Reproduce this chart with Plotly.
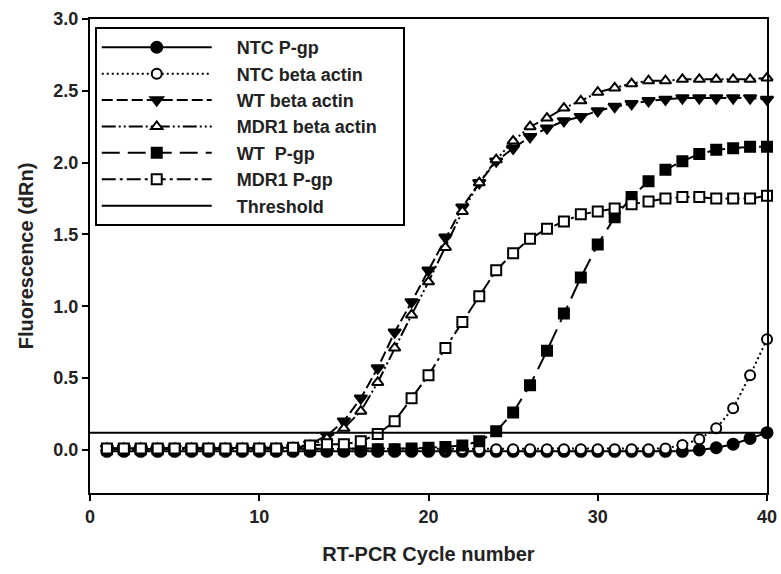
import plotly.graph_objects as go

cycles = list(range(1, 41))

ntc_pgp = [-0.01] * 35 + [0.0, 0.015, 0.04, 0.08, 0.12]
ntc_beta = [0.005] * 33 + [0.01, 0.035, 0.075, 0.15, 0.29, 0.52, 0.77]
wt_beta = [0.01] * 11 + [0.015, 0.04, 0.10, 0.20, 0.36, 0.57, 0.82, 1.03, 1.25,
                         1.48, 1.69, 1.86, 2.01, 2.10, 2.18, 2.24, 2.29, 2.32, 2.36,
                         2.39, 2.41, 2.43, 2.44, 2.45, 2.45, 2.45, 2.45, 2.45, 2.44]
mdr1_beta = [0.01] * 11 + [0.015, 0.03, 0.08, 0.15, 0.27, 0.47, 0.71, 0.94, 1.17,
                           1.41, 1.66, 1.86, 2.02, 2.15, 2.25, 2.31, 2.38, 2.43, 2.49,
                           2.52, 2.55, 2.57, 2.57, 2.58, 2.58, 2.58, 2.58, 2.58, 2.59]
wt_pgp = [0.005] * 18 + [0.01, 0.015, 0.02, 0.03, 0.06, 0.13, 0.26, 0.45, 0.69, 0.95,
                         1.20, 1.43, 1.62, 1.76, 1.87, 1.95, 2.01, 2.06, 2.09, 2.10,
                         2.11, 2.11]
mdr1_pgp = [0.01] * 11 + [0.015, 0.03, 0.04, 0.04, 0.06, 0.11, 0.20, 0.36, 0.52,
                          0.71, 0.89, 1.07, 1.25, 1.37, 1.47, 1.54, 1.59, 1.64, 1.66,
                          1.68, 1.71, 1.73, 1.75, 1.76, 1.76, 1.75, 1.75, 1.75, 1.77]
threshold_x = [0, 40]
threshold_y = [0.12, 0.12]

names = ["NTC P-gp", "NTC beta actin", "WT beta actin", "MDR1 beta actin",
         "WT  P-gp", "MDR1 P-gp", "Threshold"]

series = [ntc_pgp, ntc_beta, wt_beta, mdr1_beta, wt_pgp, mdr1_pgp]
dashes = ["solid", "2px,3px", "11px,4px", "14px,3px,2px,3px,2px,3px", "18px,8px", "14px,4px,3px,4px"]
symbols = ["circle", "circle", "triangle-down", "triangle-up", "square", "square"]
fills = ["black", "white", "black", "white", "black", "white"]
sizes = [11, 10, 11, 10, 10, 10]

lead = "\u00a0" * 4
trail = "\u00a0" * 4

fig = go.Figure()
for name, ys, d, s, f, sz in zip(names[:6], series, dashes, symbols, fills, sizes):
    fig.add_trace(go.Scatter(
        x=cycles, y=ys, name=lead + name + trail, mode="lines+markers",
        line=dict(color="black", width=2, dash=d),
        marker=dict(symbol=s, size=sz, color=f, line=dict(color="black", width=2)),
        cliponaxis=False,
    ))
fig.add_trace(go.Scatter(x=threshold_x, y=threshold_y, name=lead + names[6] + trail,
                         mode="lines", line=dict(color="black", width=2)))

font_family = "Liberation Sans, Arial, sans-serif"
fig.update_layout(
    width=781, height=574,
    margin=dict(l=90, r=14, t=19, b=81, autoexpand=False),
    paper_bgcolor="white", plot_bgcolor="white",
    font=dict(family=font_family, size=18, color="#222"),
    showlegend=True,
    legend=dict(
        x=0.007, y=0.983, xanchor="left", yanchor="top",
        bgcolor="white", bordercolor="black", borderwidth=2,
        font=dict(family=font_family, size=18, color="#222", weight="bold"),
        itemwidth=110, tracegroupgap=0,
    ),
    xaxis=dict(
        range=[0, 40], tickvals=[0, 10, 20, 30, 40], ticks="outside", ticklen=6,
        tickwidth=2, tickcolor="black", showline=True, linecolor="black", linewidth=2,
        mirror=True, showgrid=False, zeroline=False, automargin=False,
        tickfont=dict(family=font_family, size=18, color="#222", weight="bold"),
        title=dict(text="RT-PCR Cycle number", standoff=21,
                   font=dict(family=font_family, size=20, color="#222", weight="bold")),
    ),
    yaxis=dict(
        range=[-0.3, 3.0], tickvals=[0, 0.5, 1.0, 1.5, 2.0, 2.5, 3.0], tickformat=".1f",
        ticks="outside", ticklen=6, tickwidth=2, tickcolor="black", showline=True,
        linecolor="black", linewidth=2, mirror=True, showgrid=False, zeroline=False,
        automargin=False,
        tickfont=dict(family=font_family, size=18, color="#222", weight="bold"),
        title=dict(text="Fluorescence (dRn)", standoff=14,
                   font=dict(family=font_family, size=20, color="#222", weight="bold")),
    ),
)

fig.write_html(
    "out.html",
    config={"displayModeBar": False},
    post_script="document.body.style.margin='0';document.body.style.padding='0';document.body.style.overflow='hidden';",
)
